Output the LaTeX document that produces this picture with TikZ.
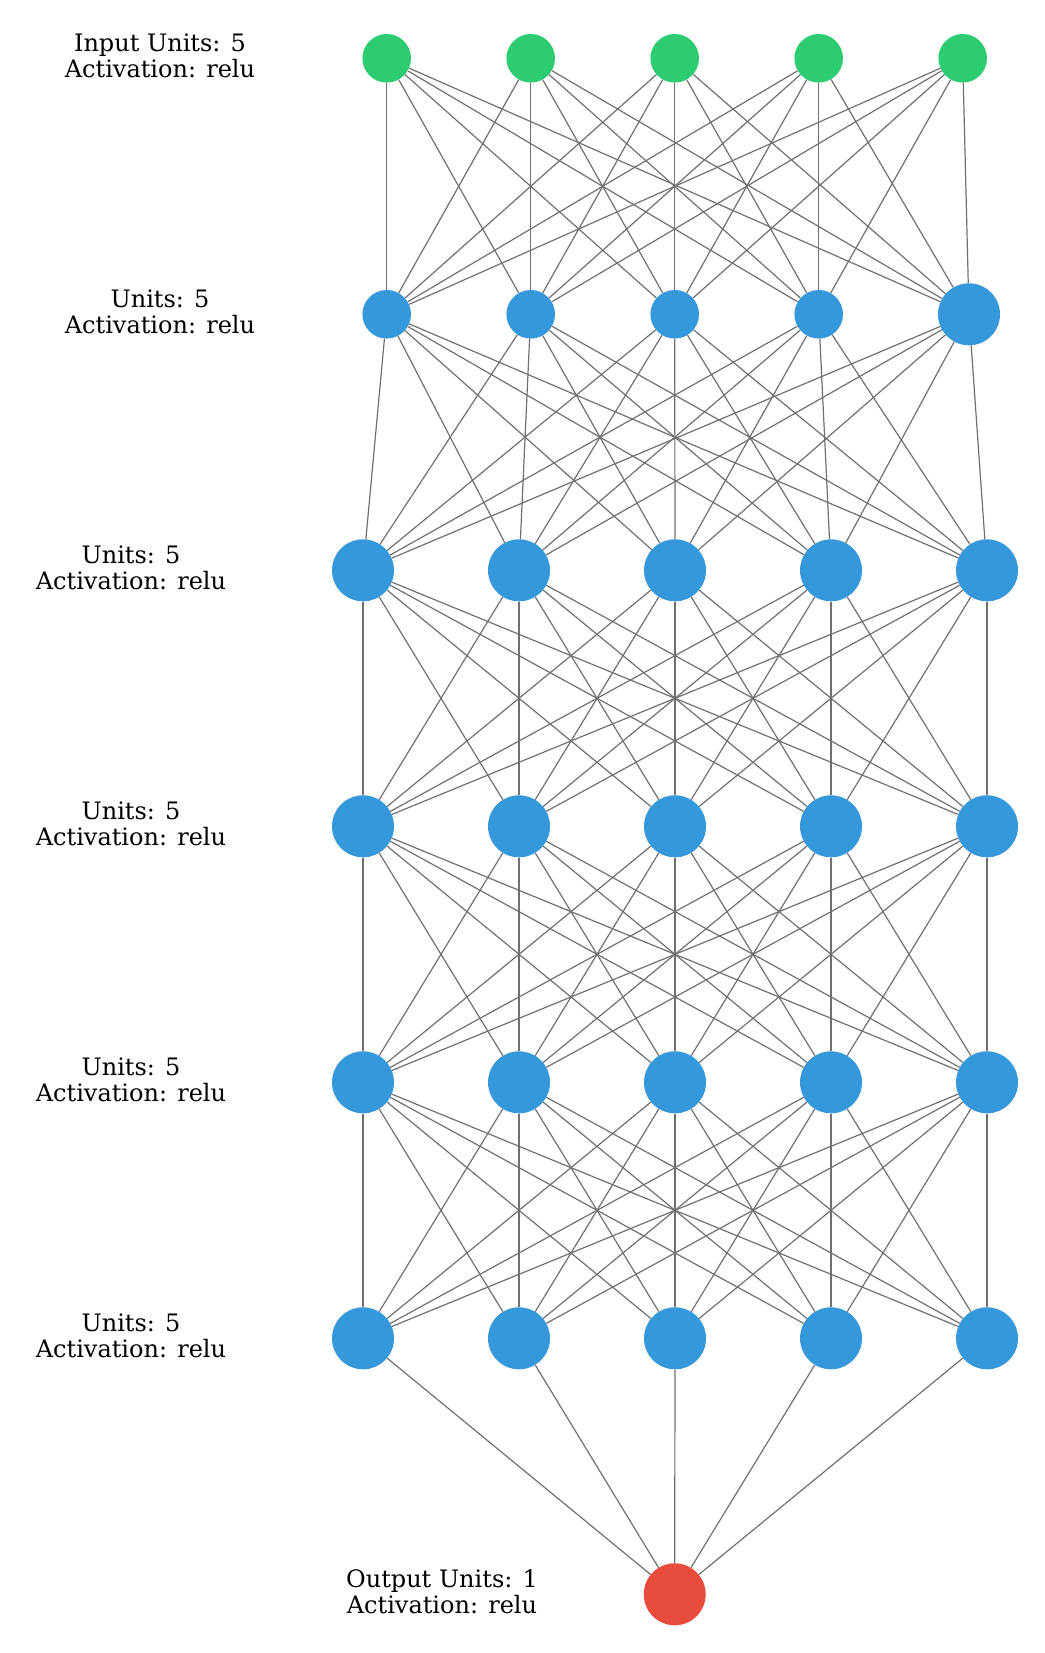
\documentclass[tikz,border=0pt]{standalone}
\usepackage{fontspec}
\setmainfont{DejaVu Serif}
\usepackage{tikz}

\definecolor{inputgreen}{HTML}{2ECC71}
\definecolor{hiddenblue}{HTML}{3498DB}
\definecolor{outputred}{HTML}{E74C3C}
\definecolor{edgegray}{HTML}{707070}

\begin{document}
\begin{tikzpicture}[x=1pt,y=-1pt,
  unit/.style={circle,inner sep=0pt,minimum size=62pt},
  smallunit/.style={minimum size=48.6pt},
  link/.style={draw=edgegray,line width=1.2pt},
  caption/.style={align=center,font=\fontsize{24}{26}\selectfont}]
\useasboundingbox (0,0) rectangle (1044,1653);

% input layer
\foreach \j in {1,...,5}
  \node[unit,smallunit,fill=inputgreen] (n0-\j) at ({386.7+144*(\j-1)},58.3) {};

% first hidden layer
\foreach \j in {1,...,4}
  \node[unit,smallunit,fill=hiddenblue] (n1-\j) at ({386.7+144*(\j-1)},314.3) {};
\node[unit,fill=hiddenblue] (n1-5) at (969,314.3) {};

% hidden layers
\foreach \l in {2,...,5}
  \foreach \j in {1,...,5}
    \node[unit,fill=hiddenblue] (n\l-\j) at ({363+156*(\j-1)},{58.3+256*\l}) {};

% output
\node[unit,fill=outputred] (n6-1) at (674.7,1594.3) {};

% connections
\foreach \l [evaluate=\l as \m using int(\l+1)] in {0,...,4}
  \foreach \i in {1,...,5}
    \foreach \j in {1,...,5}
      \draw[link] (n\l-\i) -- (n\m-\j);
\foreach \i in {1,...,5}
  \draw[link] (n5-\i) -- (n6-1);

% layer captions
\node[caption] (cap0) at (160,55.5) {Input Units: 5\\Activation: relu};
\node[caption] (cap1) at (160,311.5) {Units: 5\\Activation: relu};
\foreach \l in {2,...,5}
  \node[caption] (cap\l) at (131,{55.5+256*\l}) {Units: 5\\Activation: relu};
\node[caption] (cap6) at (442,1591.5) {Output Units: 1\\Activation: relu};
\end{tikzpicture}
\end{document}
